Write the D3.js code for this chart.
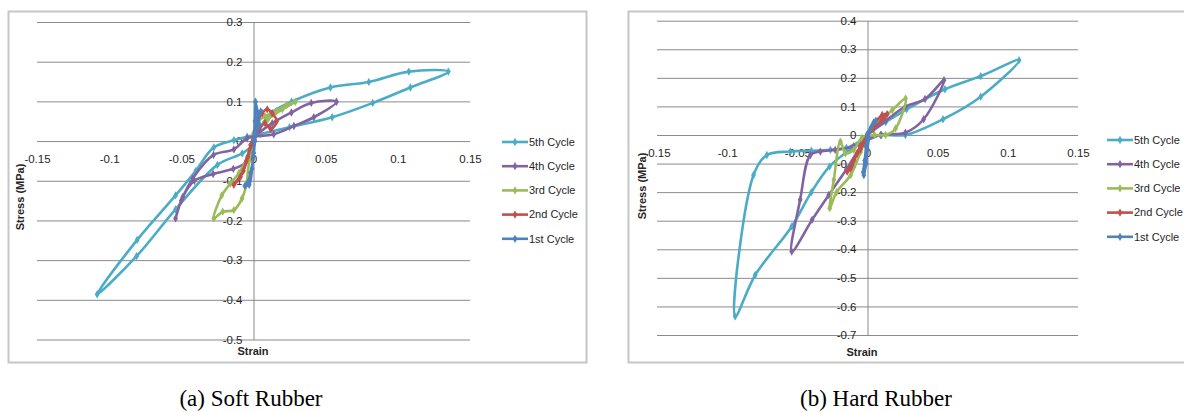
<!DOCTYPE html>
<html>
<head>
<meta charset="utf-8">
<script src="https://cdn.jsdelivr.net/npm/d3@7"></script>
<style>
body { margin: 0; background: #fff; }
</style>
</head>
<body>
<svg id="fig" width="1184" height="412"></svg>
<script>
const cycleNames = ["5th Cycle", "4th Cycle", "3rd Cycle", "2nd Cycle", "1st Cycle"];
const cycleColors = ["#4BACC6", "#8064A2", "#9BBB59", "#C0504D", "#4F81BD"];

const xTicks = [-0.15, -0.1, -0.05, 0, 0.05, 0.1, 0.15];
const yTicksSoft = [-0.5, -0.4, -0.3, -0.2, -0.1, 0, 0.1, 0.2, 0.3];
const yTicksHard = [-0.7, -0.6, -0.5, -0.4, -0.3, -0.2, -0.1, 0, 0.1, 0.2, 0.3, 0.4];

// soft rubber, [strain, stress]
const soft5 = [[0, 0.005], [0.012, 0.07], [0.0263, 0.099], [0.0533, 0.135], [0.0799, 0.149], [0.1076, 0.175], [0.135, 0.175],
    [0.1087, 0.135], [0.0826, 0.096], [0.0545, 0.06], [0.025, 0.035], [0.005, 0.018], [-0.0044, 0.011], [-0.0136, 0.002],
    [-0.0275, -0.016], [-0.04, -0.075], [-0.054, -0.137], [-0.0806, -0.249], [-0.1083, -0.386], [-0.081, -0.29],
    [-0.054, -0.172], [-0.025, -0.06], [-0.0078, -0.031], [0, -0.01]];
const soft4 = [[0, 0.01], [0.013, 0.045], [0.0263, 0.072], [0.040, 0.096], [0.0575, 0.099], [0.0418, 0.06], [0.028, 0.038],
    [0.014, 0.017], [-0.0044, 0.007], [-0.0136, -0.021], [-0.0277, -0.035], [-0.042, -0.094], [-0.05, -0.15],
    [-0.054, -0.195], [-0.049, -0.141], [-0.041, -0.1], [-0.028, -0.083], [-0.014, -0.07], [-0.0055, -0.055], [0, -0.03]];
const soft3 = [[0, 0.02], [0.003, 0.05], [0.008, 0.062], [0.016, 0.076], [0.023, 0.091], [0.029, 0.099], [0.02, 0.08],
    [0.01, 0.055], [0.003, 0.03], [0, 0], [-0.003, -0.05], [-0.005, -0.11], [-0.008, -0.145], [-0.0136, -0.174],
    [-0.0213, -0.178], [-0.0275, -0.195], [-0.022, -0.137], [-0.016, -0.107], [-0.01, -0.08], [-0.004, -0.04], [0, 0]];
const soft2 = [[0, 0], [0.002, 0.04], [0.006, 0.07], [0.0095, 0.08], [0.013, 0.07], [0.016, 0.05], [0.012, 0.03],
    [0.008, 0.045], [0.004, 0.03], [0, 0], [-0.004, -0.04], [-0.007, -0.075], [-0.0136, -0.11], [-0.009, -0.09],
    [-0.005, -0.05], [-0.002, -0.01], [0.002, 0.03]];
const soft1 = [[0, 0], [0.001, 0.05], [0.0014, 0.099], [0.003, 0.07], [0.004, 0.04], [0.002, 0.02], [0.001, 0],
    [0, -0.04], [-0.002, -0.08], [-0.004, -0.105], [-0.006, -0.113], [-0.003, -0.11], [-0.001, -0.07], [0, -0.03],
    [0.001, 0.02], [0.003, 0.06], [0.005, 0.075]];

// hard rubber, [strain, stress]
const hard5 = [[0, 0.005], [0.013, 0.045], [0.0279, 0.09], [0.0552, 0.16], [0.0807, 0.206], [0.108, 0.262],
    [0.0807, 0.134], [0.0538, 0.055], [0.027, 0.0], [0.01, 0.0], [0, -0.01], [-0.015, -0.045], [-0.0264, -0.052],
    [-0.04, -0.055], [-0.055, -0.058], [-0.0717, -0.07], [-0.0812, -0.14], [-0.0943, -0.635],
    [-0.08, -0.49], [-0.054, -0.32], [-0.04, -0.2], [-0.027, -0.11], [-0.012, -0.05], [0, -0.015]];
const hard4 = [[0, 0], [0.013, 0.05], [0.027, 0.099], [0.041, 0.126], [0.0545, 0.192], [0.040, 0.055], [0.027, 0.008],
    [0.0093, 0], [-0.01, -0.04], [-0.023, -0.052], [-0.0336, -0.058], [-0.0407, -0.07], [-0.048, -0.227],
    [-0.054, -0.408], [-0.0395, -0.297], [-0.0276, -0.21], [-0.015, -0.12], [-0.005, -0.04], [0, 0]];
const hard3 = [[0, 0], [0.005, 0.03], [0.0105, 0.058], [0.0176, 0.087], [0.0271, 0.128], [0.02, 0.023], [0.0129, 0.0],
    [0.005, 0.0], [-0.004, -0.01], [-0.0098, -0.052], [-0.0157, -0.064], [-0.0193, -0.023], [-0.024, -0.157],
    [-0.0269, -0.256], [-0.022, -0.2], [-0.012, -0.14], [-0.005, -0.06], [0, 0]];
const hard2 = [[0, 0], [0.005, 0.04], [0.0105, 0.07], [0.014, 0.073], [0.01, 0.05], [0.004, 0.02], [0, 0],
    [-0.005, -0.04], [-0.0074, -0.064], [-0.012, -0.117], [-0.0145, -0.128], [-0.01, -0.09], [-0.005, -0.05], [0, -0.01]];
const hard1 = [[0, 0], [0.002, 0.02], [0.0045, 0.045], [0.006, 0.05], [0.003, 0.03], [0, 0], [-0.001, -0.04],
    [-0.002, -0.09], [-0.003, -0.13], [-0.0026, -0.14], [-0.001, -0.1], [0, -0.05], [0.001, -0.01]];

const captions = ["(a) Soft Rubber", "(b) Hard Rubber"];

const sans = "'Liberation Sans', Arial, sans-serif";
const serif = "'Liberation Serif', 'Times New Roman', serif";

const svg = d3.select("#fig");

const panels = [
    { series: [soft5, soft4, soft3, soft2, soft1], yTicks: yTicksSoft, caption: captions[0],
      box: [8, 11, 578, 351], xr: [37, 470], yr: [339.5, 22], legX: 502, legY: 142,
      strainPos: [253, 351], stressPos: [20, 197], capX: 251 },
    { series: [hard5, hard4, hard3, hard2, hard1], yTicks: yTicksHard, caption: captions[1],
      box: [628, 11, 600, 351], xr: [657, 1078], yr: [335, 20.7], legX: 1107, legY: 140,
      strainPos: [862, 352], stressPos: [642, 186], capX: 876 }
];

const drawPanel = (p) => {
    const g = svg.append("g");

    g.append("rect")
        .attr("x", p.box[0] + 0.5).attr("y", p.box[1] + 0.5)
        .attr("width", p.box[2]).attr("height", p.box[3])
        .attr("fill", "none").attr("stroke", "#c6c6c6").attr("stroke-width", 2);

    const x = d3.scaleLinear().domain([-0.15, 0.15]).range(p.xr);
    const y = d3.scaleLinear().domain([p.yTicks[0], p.yTicks[p.yTicks.length - 1]]).range(p.yr);

    // horizontal gridlines
    const grid = g.append("g")
        .attr("transform", `translate(${p.xr[0]},0)`)
        .call(d3.axisLeft(y).tickValues(p.yTicks).tickSize(-(p.xr[1] - p.xr[0])).tickFormat(""));
    grid.select(".domain").remove();
    grid.selectAll("line").attr("stroke", "#8a8a8a").attr("stroke-width", 1);

    // vertical axis at x = 0
    const yAxis = g.append("g")
        .attr("transform", `translate(${x(0)},0)`)
        .call(d3.axisLeft(y).tickValues(p.yTicks).tickSize(0).tickPadding(11).tickFormat(d => String(d)));
    yAxis.select(".domain").attr("stroke", "#8a8a8a");
    yAxis.selectAll("text").attr("fill", "#262626")
        .style("font-size", "11.5px").style("font-family", sans);

    const xAxis = g.append("g")
        .attr("transform", `translate(0,${y(0)})`)
        .call(d3.axisBottom(x).tickValues(xTicks).tickSize(0).tickPadding(14).tickFormat(d => String(d)));
    xAxis.select(".domain").remove();
    xAxis.selectAll("text").attr("fill", "#262626")
        .style("font-size", "11.5px").style("font-family", sans);

    g.append("text")
        .attr("x", p.strainPos[0]).attr("y", p.strainPos[1])
        .attr("text-anchor", "middle").attr("dy", "0.35em")
        .style("font-size", "11px").style("font-family", sans)
        .attr("font-weight", "bold").attr("fill", "#262626")
        .text("Strain");

    g.append("text")
        .attr("transform", `translate(${p.stressPos[0]},${p.stressPos[1]}) rotate(-90)`)
        .attr("text-anchor", "middle").attr("dy", "0.35em")
        .style("font-size", "11px").style("font-family", sans)
        .attr("font-weight", "bold").attr("fill", "#262626")
        .text("Stress (MPa)");

    const line = d3.line()
        .x(d => x(d[0]))
        .y(d => y(d[1]))
        .curve(d3.curveCatmullRom.alpha(0.5));

    const diamond = d3.symbol().type(d3.symbolDiamond).size(20);

    p.series.forEach((s, i) => {
        g.append("path")
            .datum(s)
            .attr("fill", "none")
            .attr("stroke", cycleColors[i])
            .attr("stroke-width", 2.6)
            .attr("stroke-linejoin", "round")
            .attr("d", line);

        g.selectAll(null)
            .data(s)
            .enter().append("path")
                .attr("d", diamond)
                .attr("fill", cycleColors[i])
                .attr("transform", d => `translate(${x(d[0])},${y(d[1])})`);
    });

    // legend
    const leg = g.selectAll(".legend")
        .data(cycleNames)
        .enter().append("g")
            .attr("transform", (d, i) => `translate(${p.legX},${p.legY + i * 24.2})`);

    leg.append("line")
        .attr("x1", 0).attr("x2", 26)
        .attr("stroke", (d, i) => cycleColors[i])
        .attr("stroke-width", 2.6);

    leg.append("path")
        .attr("d", diamond)
        .attr("transform", "translate(13,0)")
        .attr("fill", (d, i) => cycleColors[i]);

    leg.append("text")
        .attr("x", 27)
        .attr("dy", "0.35em")
        .style("font-size", "11px").style("font-family", sans)
        .attr("fill", "#262626")
        .text(d => d);

    svg.append("text")
        .attr("x", p.capX).attr("y", 398)
        .attr("text-anchor", "middle").attr("dy", "0.35em")
        .style("font-family", serif)
        .style("font-size", "23px")
        .attr("fill", "#000")
        .text(p.caption);
};

panels.forEach(drawPanel);
</script>
</body>
</html>
